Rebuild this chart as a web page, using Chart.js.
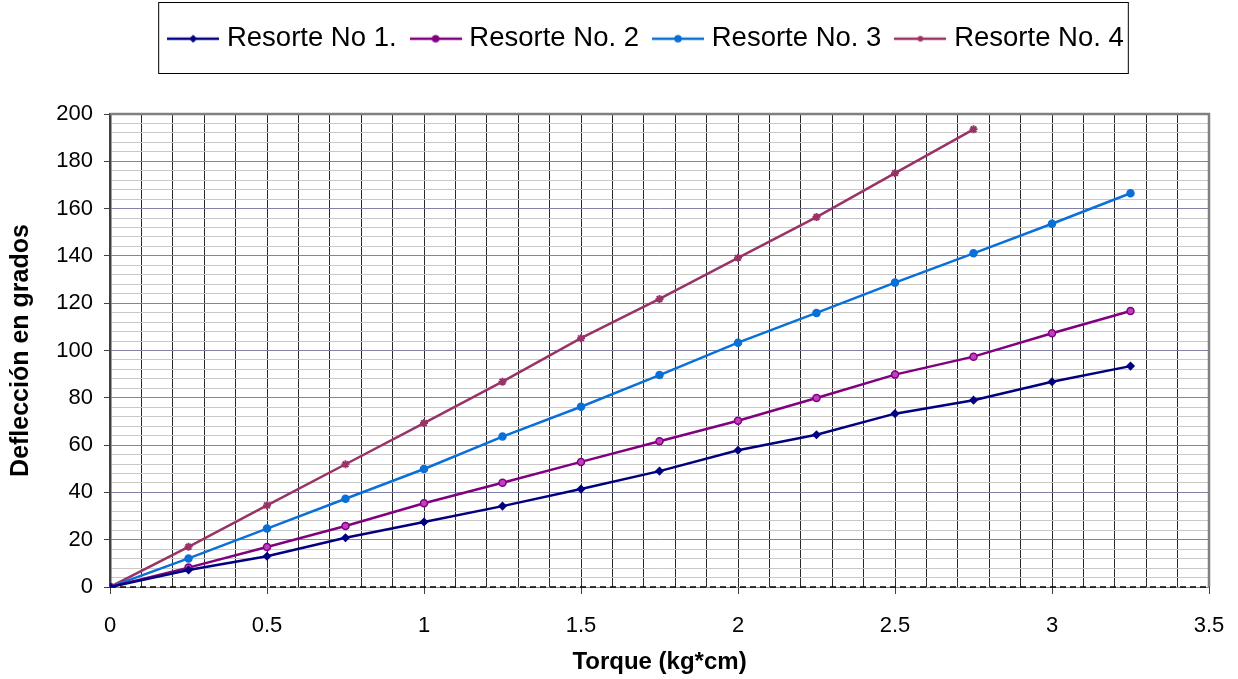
<!DOCTYPE html>
<html>
<head>
<meta charset="utf-8">
<script src="https://cdn.jsdelivr.net/npm/chart.js@4.4.1/dist/chart.umd.min.js"></script>
<style>
  html, body { margin: 0; padding: 0; background: #fff; }
  #wrap { width: 1238px; height: 679px; }
</style>
</head>
<body>
<div id="wrap"><canvas id="chart" width="1238" height="679"></canvas></div>
<script>
const torque = [0, 0.25, 0.5, 0.75, 1, 1.25, 1.5, 1.75, 2, 2.25, 2.5, 2.75, 3, 3.25];
const resorte1 = [0, 7.2, 13.0, 20.8, 27.5, 34.2, 41.4, 49.0, 57.8, 64.4, 73.3, 79.0, 86.8, 93.4];
const resorte2 = [0, 8.2, 16.9, 25.8, 35.4, 44.1, 52.9, 61.6, 70.3, 79.9, 89.8, 97.4, 107.3, 116.7];
const resorte3 = [0, 12.1, 24.7, 37.3, 49.9, 63.6, 76.2, 89.6, 103.3, 115.9, 128.7, 141.1, 153.6, 166.5];
const resorte4 = [0, 17.0, 34.5, 51.9, 69.3, 86.8, 105.2, 121.8, 139.2, 156.4, 175.0, 193.5];
const seriesNames = ['Resorte No 1.', 'Resorte No. 2', 'Resorte No. 3', 'Resorte No. 4'];
const seriesColors = ['#000080', '#800080', '#0a70d8', '#993366'];
const seriesMarkers = ['rectRot', 'circle', 'circle', 'star'];

const FONT = "'Liberation Sans', Arial, sans-serif";

function toPoints(values) {
    return values.map((v, i) => ({ x: torque[i], y: v }));
}

// little line + marker picture for each legend entry
function legendIcon(color, marker) {
    const c = document.createElement('canvas');
    c.width = 52;
    c.height = 14;
    const g = c.getContext('2d');
    g.strokeStyle = color;
    g.fillStyle = color;
    g.lineWidth = 2.5;
    g.beginPath();
    g.moveTo(0, 7);
    g.lineTo(52, 7);
    g.stroke();
    g.lineWidth = 1.5;
    Chart.helpers.drawPoint(g, { pointStyle: marker, radius: 3, rotation: 0, borderWidth: 1.5 }, 26, 7);
    return c;
}
const legendIcons = seriesColors.map((c, i) => legendIcon(c, seriesMarkers[i]));

const allValues = [resorte1, resorte2, resorte3, resorte4];
const datasets = allValues.map((vals, i) => ({
    label: seriesNames[i],
    data: toPoints(vals),
    borderColor: seriesColors[i],
    backgroundColor: seriesColors[i],
    borderWidth: 2.5,
    pointStyle: seriesMarkers[i],
    pointRadius: i === 3 ? 4 : 3.5,
    pointBorderWidth: i === 3 ? 2 : 1.5,
    pointBackgroundColor: i === 1 ? '#c040c0' : seriesColors[i],
    pointBorderColor: seriesColors[i],
    tension: 0
}));

const isMultiple = (v, step) => Math.abs(v / step - Math.round(v / step)) < 1e-6;

const frameAndLegendBox = {
    id: 'frameAndLegendBox',
    beforeInit(chart) {
        const fit = chart.legend.fit;
        chart.legend.fit = function () {
            fit.call(this);
            this.height = 114;
        };
    },
    afterLayout(chart) {
        chart.legend.left += 44;
        chart.legend.right += 44;
        chart.legend.top += 6;
        chart.legend.bottom += 6;
    },
    beforeDatasetsDraw(chart) {
        const a = chart.chartArea;
        const ctx = chart.ctx;
        ctx.save();
        ctx.strokeStyle = '#808080';
        ctx.lineWidth = 2.5;
        ctx.beginPath();
        ctx.moveTo(a.left, a.top);
        ctx.lineTo(a.right, a.top);
        ctx.lineTo(a.right, a.bottom);
        ctx.stroke();
        // dashed zero line along the bottom
        ctx.strokeStyle = '#000';
        ctx.lineWidth = 1.5;
        ctx.setLineDash([6, 4]);
        ctx.beginPath();
        ctx.moveTo(a.left, a.bottom);
        ctx.lineTo(a.right, a.bottom);
        ctx.stroke();
        ctx.restore();
    },
    afterDraw(chart) {
        const boxes = chart.legend.legendHitBoxes;
        if (!boxes || !boxes.length) return;
        const left = Math.min(...boxes.map(b => b.left));
        const right = Math.max(...boxes.map(b => b.left + b.width));
        const ctx = chart.ctx;
        ctx.save();
        ctx.strokeStyle = '#000';
        ctx.lineWidth = 1;
        ctx.strokeRect(left - 14.5, 2.5, right - left + 19, 71);
        ctx.restore();
    }
};

new Chart(document.getElementById('chart').getContext('2d'), {
    type: 'line',
    data: { datasets: datasets },
    plugins: [frameAndLegendBox],
    options: {
        responsive: false,
        animation: false,
        layout: { padding: { left: 0, right: 29, top: 0, bottom: 0 } },
        plugins: {
            tooltip: { enabled: false },
            legend: {
                display: true,
                position: 'top',
                labels: {
                    usePointStyle: true,
                    pointStyleWidth: 40,
                    padding: 19,
                    color: '#000',
                    font: { family: FONT, size: 27.5 },
                    generateLabels(chart) {
                        const items = Chart.defaults.plugins.legend.labels.generateLabels(chart);
                        items.forEach((it, i) => { it.pointStyle = legendIcons[i]; });
                        return items;
                    }
                }
            }
        },
        scales: {
            x: {
                type: 'linear',
                min: 0,
                max: 3.5,
                afterFit(scale) {
                    scale.height = 92;
                    scale.paddingRight = 0;
                },
                ticks: {
                    stepSize: 0.1,
                    autoSkip: false,
                    maxRotation: 0,
                    padding: 19,
                    color: '#000',
                    font: { family: FONT, size: 22 },
                    callback: v => isMultiple(v, 0.5) ? String(Math.round(v * 10) / 10) : ''
                },
                grid: {
                    color: '#2a2a2a',
                    lineWidth: 1,
                    tickLength: 7,
                    tickColor: c => (c.tick && isMultiple(c.tick.value, 0.5)) ? '#404040' : 'rgba(0,0,0,0)'
                },
                border: { display: false },
                title: {
                    display: true,
                    text: 'Torque (kg*cm)',
                    color: '#000',
                    font: { family: FONT, size: 24, weight: 'bold' },
                    padding: { top: 0, bottom: 2 }
                }
            },
            y: {
                type: 'linear',
                min: 0,
                max: 200,
                afterFit(scale) { scale.width = 110; },
                ticks: {
                    stepSize: 4,
                    autoSkip: false,
                    padding: 11,
                    color: '#000',
                    font: { family: FONT, size: 22 },
                    callback: v => isMultiple(v, 20) ? String(v) : ''
                },
                grid: {
                    color: c => (c.tick && isMultiple(c.tick.value, 20)) ? '#8282a8' : '#c8c8c8',
                    lineWidth: 1,
                    tickLength: 6,
                    tickColor: c => (c.tick && isMultiple(c.tick.value, 20)) ? '#404040' : 'rgba(0,0,0,0)'
                },
                border: { display: true, color: '#404040', width: 2.5 },
                title: {
                    display: true,
                    text: 'Deflección en grados',
                    color: '#000',
                    font: { family: FONT, size: 25, weight: 'bold' },
                    padding: { top: 6, bottom: 0 }
                }
            }
        }
    }
});
</script>
</body>
</html>
